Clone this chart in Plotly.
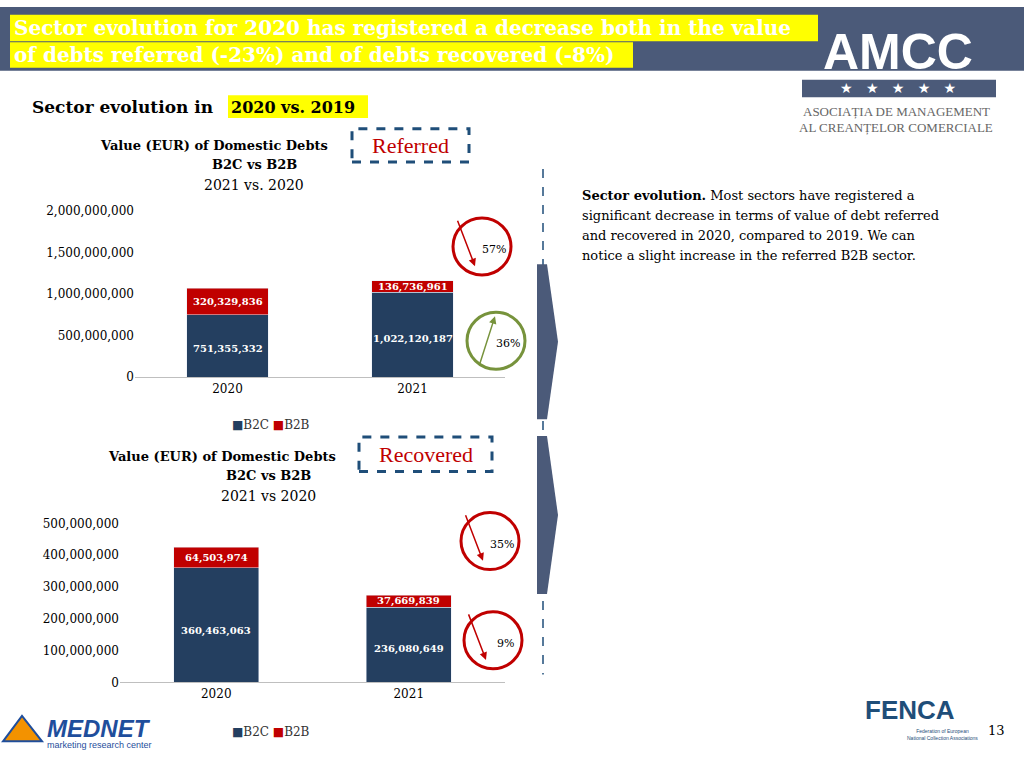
import plotly.graph_objects as go

years = ["2020", "2021"]
ref_b2c = [751355332, 1022120187]
ref_b2b = [320329836, 136736961]
rec_b2c = [360463063, 236080649]
rec_b2b = [64503974, 37669839]
ref_ticks = [0, 500000000, 1000000000, 1500000000, 2000000000]
rec_ticks = [0, 100000000, 200000000, 300000000, 400000000, 500000000]

C_B2C = "#243f60"
C_B2B = "#c00000"
SERIF = "DejaVu Serif"

def X(px): return px / 1024
def Y(py): return 1 - py / 768

fig = go.Figure()
for b2c, b2b, xa, ya in [(ref_b2c, ref_b2b, "x", "y"), (rec_b2c, rec_b2b, "x2", "y2")]:
    fig.add_bar(x=years, y=b2c, marker_color=C_B2C, xaxis=xa, yaxis=ya, showlegend=False)
    fig.add_bar(x=years, y=b2b, marker_color=C_B2B, xaxis=xa, yaxis=ya, showlegend=False)

ann = []
def fmt(v): return f"{v:,}"
for i, yr in enumerate(years):
    for b2c, b2b, xr, yr_ in [(ref_b2c, ref_b2b, "x", "y"), (rec_b2c, rec_b2b, "x2", "y2")]:
        ann.append(dict(x=i, y=b2c[i] * 0.45, xref=xr, yref=yr_, text=f"<b>{fmt(b2c[i])}</b>",
                        showarrow=False, font=dict(color="white", size=10, family=SERIF)))
        ann.append(dict(x=i, y=b2c[i] + b2b[i] / 2, xref=xr, yref=yr_, text=f"<b>{fmt(b2b[i])}</b>",
                        showarrow=False, font=dict(color="white", size=10, family=SERIF)))

def txt(x, y, t, size=14, color="black", xanchor="left", fam=SERIF, **kw):
    ann.append(dict(x=X(x), y=Y(y), xref="paper", yref="paper", text=t, showarrow=False,
                    xanchor=xanchor, yanchor="middle", font=dict(size=size, color=color, family=fam), **kw))

shapes = []
shapes.append(dict(type="rect", xref="paper", yref="paper", x0=0, x1=1, y0=Y(65), y1=1,
                   fillcolor="#4b5a79", line_width=0, layer="below"))
shapes.append(dict(type="rect", xref="paper", yref="paper", x0=X(10), x1=X(818), y0=Y(35), y1=Y(8),
                   fillcolor="#ffff00", line_width=0, layer="below"))
shapes.append(dict(type="rect", xref="paper", yref="paper", x0=X(10), x1=X(633), y0=Y(62), y1=Y(36),
                   fillcolor="#ffff00", line_width=0, layer="below"))
txt(12, 21, "<b>Sector evolution for 2020 has registered a decrease both in the value</b>", 20, "white")
txt(12, 49, "<b>of debts referred (-23%) and of debts recovered (-8%)</b>", 20, "white")
txt(898, 46, "<b>AMCC</b>", 50, "white", "center", "Liberation Sans")
shapes.append(dict(type="rect", xref="paper", yref="paper", x0=X(802), x1=X(996), y0=Y(92), y1=Y(74),
                   fillcolor="#4b5a79", line_width=0))
txt(898, 83, "★   ★   ★   ★   ★", 14, "white", "center", "DejaVu Sans")
txt(896, 106, "ASOCIAȚIA DE MANAGEMENT", 13, "#666666", "center", "Liberation Sans Narrow")
txt(896, 123, "AL CREANȚELOR COMERCIALE", 13, "#666666", "center", "Liberation Sans Narrow")
shapes.append(dict(type="rect", xref="paper", yref="paper", x0=X(228), x1=X(368), y0=Y(113), y1=Y(90),
                   fillcolor="#ffff00", line_width=0, layer="below"))
txt(30, 102, "<b>Sector evolution in</b>", 17)
txt(229, 102, "<b>2020 vs. 2019</b>", 16)
txt(214, 141, "<b>Value (EUR) of Domestic Debts</b>", 13, xanchor="center")
txt(254, 160, "<b>B2C vs B2B</b>", 13, xanchor="center")
txt(254, 181, "2021 vs. 2020", 14, xanchor="center")
txt(222, 458, "<b>Value (EUR) of Domestic Debts</b>", 13, xanchor="center")
txt(268, 477, "<b>B2C vs B2B</b>", 13, xanchor="center")
txt(268, 498, "2021 vs 2020", 14, xanchor="center")
for x0, x1, y0, y1, t in [(352, 469, 124, 158, "Referred"), (359, 492, 438, 473, "Recovered")]:
    shapes.append(dict(type="rect", xref="paper", yref="paper", x0=X(x0), x1=X(x1), y0=Y(y1), y1=Y(y0),
                       line=dict(color="#1f4e79", width=3, dash="dash")))
    txt((x0 + x1) / 2, (y0 + y1) / 2, t, 22, "#c00000", "center", "Liberation Serif")
for ly in (426, 738):
    txt(230, ly, "<span style='color:%s'>■</span>B2C <span style='color:%s'>■</span>B2B" % (C_B2C, C_B2B),
        12, "#333333", "left")
for cx, cy, col, t, up in [(482, 244, "#c00000", "57%", False), (496, 340, "#77933c", "36%", True),
                           (490, 544, "#c00000", "35%", False), (493, 645, "#c00000", "9%", False)]:
    r = 29
    shapes.append(dict(type="circle", xref="paper", yref="paper", x0=X(cx - r), x1=X(cx + r),
                       y0=Y(cy + r), y1=Y(cy - r), line=dict(color=col, width=3)))
    txt(cx + 12, cy + 3, t, 11, "black", "center")
    if up:
        hx, hy, tx, ty = cx - 1, cy - 25, cx - 17, cy + 25
    else:
        hx, hy, tx, ty = cx - 7, cy + 20, cx - 25, cy - 27
    ann.append(dict(x=X(hx), y=Y(hy), ax=tx - hx, ay=ty - hy, xref="paper", yref="paper",
                    axref="pixel", ayref="pixel", showarrow=True, arrowhead=2, arrowcolor=col,
                    arrowwidth=1.5, text=""))
shapes.append(dict(type="line", xref="paper", yref="paper", x0=X(543), x1=X(543), y0=Y(165), y1=Y(680),
                   line=dict(color="#1f4e79", width=1.5, dash="dash")))
for top, bot in [(262, 420), (437, 598)]:
    mid = (top + bot) / 2
    p = f"M {X(537)} {Y(top)} L {X(547)} {Y(top)} L {X(558)} {Y(mid)} L {X(547)} {Y(bot)} L {X(537)} {Y(bot)} Z"
    shapes.append(dict(type="path", xref="paper", yref="paper", path=p, fillcolor="#4b5a79", line_width=0))
lines = ["<b>Sector evolution.</b> Most sectors have registered a",
         "significant decrease in terms of value of debt referred",
         "and recovered in 2020, compared to 2019. We can",
         "notice a slight increase in the referred B2B sector."]
for i, l in enumerate(lines):
    txt(580, 192 + i * 20.5, l, 13)
txt(45, 735, "<b><i>MEDNET</i></b>", 24, "#1f4e9c", "left", "Liberation Sans")
txt(45, 752, "marketing research center", 9, "#1f4e9c", "left", "Liberation Sans")
shapes.append(dict(type="path", xref="paper", yref="paper",
                   path=f"M {X(3)} {Y(748)} L {X(22)} {Y(722)} L {X(42)} {Y(748)} Z",
                   fillcolor="#f39200", line=dict(color="#1f4e9c", width=2)))
txt(910, 716, "<b>FENCA</b>", 26, "#1f4e79", "center", "Liberation Sans")
txt(905, 741, "Federation of European<br>National Collection Associations", 5, "#1f4e79", "left", "Liberation Sans")
txt(996, 737, "13", 13, "black", "center")

axis_common = dict(showgrid=False, zeroline=False, ticks="", tickfont=dict(family=SERIF, size=12, color="black"))
fig.update_layout(
    width=1024, height=768, margin=dict(l=0, r=0, t=0, b=0),
    paper_bgcolor="white", plot_bgcolor="white", barmode="stack", bargap=0.56,
    xaxis=dict(type="category", range=[-0.5, 1.5], domain=[X(135), X(505)], anchor="y",
               showline=True, linecolor="#bfbfbf", **axis_common),
    yaxis=dict(domain=[Y(377), Y(208)], anchor="x", range=[0, 2e9], tickvals=ref_ticks,
               tickformat=",d", showline=False, **axis_common),
    xaxis2=dict(type="category", range=[-0.5, 1.5], domain=[X(120), X(505)], anchor="y2",
                showline=True, linecolor="#bfbfbf", **axis_common),
    yaxis2=dict(domain=[Y(688), Y(526)], anchor="x2", range=[0, 5e8], tickvals=rec_ticks,
                tickformat=",d", showline=False, **axis_common),
    annotations=ann, shapes=shapes,
)
post = "document.body.style.margin='0';document.body.style.overflow='hidden';"
fig.write_html("out.html", config={"displayModeBar": False}, post_script=post)
